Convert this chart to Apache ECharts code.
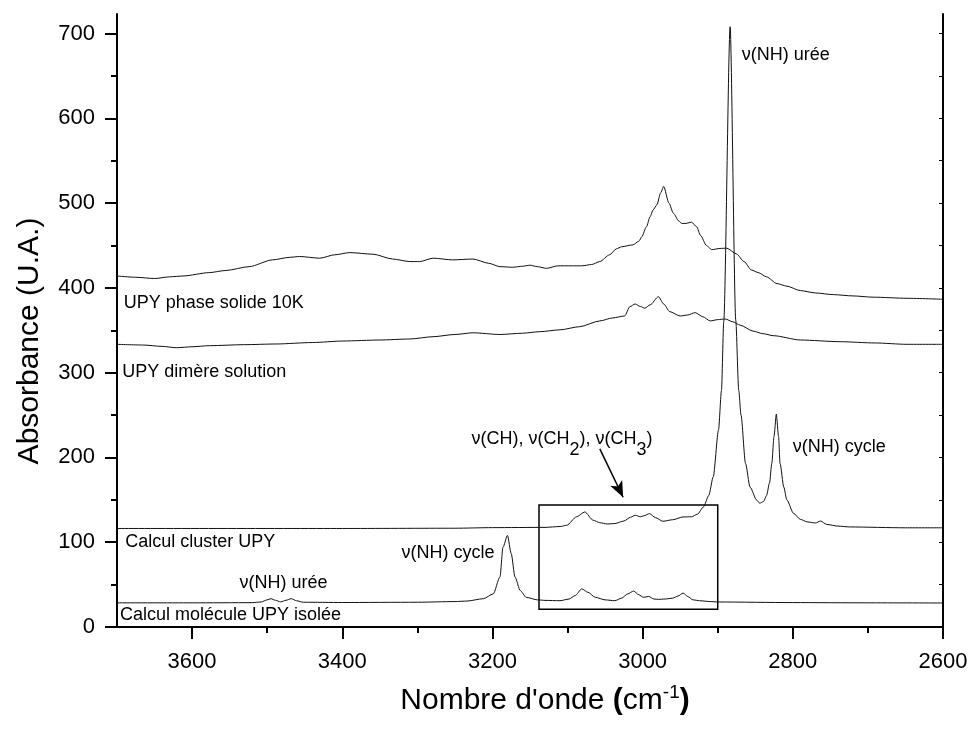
<!DOCTYPE html>
<html>
<head>
<meta charset="utf-8">
<script src="https://cdn.jsdelivr.net/npm/echarts@6/dist/echarts.min.js"></script>
<style>
  html, body { margin: 0; padding: 0; background: #fff; }
  #main { width: 972px; height: 731px; }
</style>
</head>
<body>
<div id="main"></div>
<script>
// UPY phase solide 10K
var solideX = [3700, 3675, 3650, 3630, 3612, 3577, 3555, 3524, 3493, 3470, 3457, 3430, 3410, 3390, 3359, 3333, 3310, 3297, 3279, 3253, 3226, 3205, 3190, 3173, 3160, 3150, 3140, 3128, 3113, 3095, 3081, 3068, 3057, 3044, 3035, 3028, 3013, 3005, 3001, 2995, 2990, 2986, 2981, 2976, 2972, 2965, 2959, 2952, 2948, 2942, 2935, 2928, 2923, 2915, 2908, 2897, 2888, 2875, 2865, 2855, 2846, 2835, 2821, 2808, 2790, 2770, 2746, 2720, 2693, 2648, 2600];
var solideY = [414, 412.5, 411, 413, 414, 418, 420.5, 425, 433, 436, 437, 435, 439, 441.6, 439.7, 434, 431, 431, 435, 433, 434, 429, 425, 424.3, 425.5, 426.7, 425, 423, 426, 426, 426, 427.5, 431, 439, 446, 448.5, 450.7, 455, 460.5, 472, 484, 492, 498, 512, 519.6, 500, 488, 479, 476, 476, 477.5, 472, 462, 450, 445, 446.5, 446.8, 440, 431, 421, 418, 413, 405, 402, 396.8, 394, 392, 390.5, 389, 387.7, 386.5];

// UPY dimère solution
var dimereX = [3700, 3666, 3640, 3621, 3600, 3577, 3530, 3488, 3440, 3399, 3350, 3310, 3279, 3250, 3226, 3190, 3160, 3137, 3110, 3084, 3057, 3040, 3024, 3017, 3010, 3003, 2997, 2990, 2979, 2972, 2964, 2950, 2940, 2930, 2920, 2910, 2900, 2890, 2880, 2870, 2853, 2840, 2826, 2790, 2737, 2690, 2648, 2600];
var dimereY = [333.4, 332.6, 331, 329.4, 330.5, 331.8, 333, 333.8, 335.5, 337.3, 338.5, 339.7, 342.4, 345, 347, 345, 346.5, 348.3, 350.5, 354.2, 361, 364.5, 366.8, 377.8, 381, 378, 376, 380, 389.6, 381, 372, 366.8, 368, 370.8, 366, 361, 362.5, 363.3, 360, 356, 349, 346, 343.6, 338.5, 336.5, 335, 333.4, 333.4];

// Calcul cluster UPY
var clusterX = [3700, 3400, 3250, 3200, 3130, 3110, 3101, 3088, 3077, 3066, 3057, 3047, 3037, 3025, 3016, 3010, 3003, 2997, 2991, 2983, 2973, 2960, 2946, 2935, 2927, 2919, 2912, 2906, 2899, 2895, 2892, 2883.5, 2876, 2872, 2869, 2863, 2857, 2848, 2844, 2839, 2835, 2831, 2828, 2825, 2822, 2819, 2817, 2812, 2808, 2799, 2790, 2781, 2770, 2763, 2755, 2740, 2724, 2650, 2600];
var clusterY = [116.2, 116.2, 116.5, 117.2, 117.5, 118.5, 120, 130, 135.7, 126, 123, 121.5, 122, 125, 129.5, 131.8, 130, 131.5, 133.8, 129, 124.7, 126.5, 129.8, 130, 133, 141.6, 155, 177, 232, 279, 360, 708, 362, 279, 250, 193, 165, 149.5, 146, 148, 155, 170, 193, 225, 251, 225, 193, 165, 150, 134, 127, 124, 122.7, 125, 121, 119, 118, 117, 117];

// Calcul molécule UPY isolée
var isoleeX = [3700, 3600, 3520, 3508, 3500, 3495, 3489, 3482, 3475, 3468, 3461, 3452, 3400, 3300, 3250, 3234, 3212, 3199, 3190, 3186, 3180, 3175, 3170, 3163, 3155, 3140, 3130, 3110, 3098, 3090, 3081, 3073, 3063, 3050, 3037, 3028, 3020, 3012, 3005, 2999, 2992, 2985, 2979, 2970, 2960, 2953, 2946, 2940, 2933, 2924, 2910, 2900, 2800, 2700, 2600];
var isoleeY = [28.5, 28.5, 28.7, 29.5, 32, 33.4, 31.5, 29.6, 31.5, 33.4, 31, 29.2, 28.9, 29.2, 30, 30.6, 33.4, 39, 59, 94, 108, 86.5, 59, 43, 35, 32, 31.4, 31, 33, 37, 45, 41, 35, 32, 31, 34, 39, 42.4, 38, 35, 36, 33, 32.6, 33, 34, 36.5, 40, 36, 32, 31, 30, 29.5, 28.8, 28.5, 28.3];

// axes
var xMajor = [2600, 2800, 3000, 3200, 3400, 3600];
var xMinor = [2700, 2900, 3100, 3300, 3500];
var xTop = [2700, 2800, 2900, 3000, 3100, 3200, 3300, 3400, 3500, 3600];
var yMajor = [0, 100, 200, 300, 400, 500, 600, 700];
var yMinor = [50, 150, 250, 350, 450, 550, 650];
var yRight = [50, 100, 150, 200, 250, 300, 350, 400, 450, 500, 550, 600, 650, 700];

// annotations (data coordinates)
var noteX = [2868, 3691, 3693, 3689, 3321, 3537, 3696, 3228, 2800];
var noteY = [675, 382, 301, 100, 87, 52, 14, 222, 212];
var noteText = [
    '{t|ν(NH) urée}',
    '{t|UPY phase solide 10K}',
    '{t|UPY dimère solution}',
    '{t|Calcul cluster UPY}',
    '{t|ν(NH) cycle}',
    '{t|ν(NH) urée}',
    '{t|Calcul molécule UPY isolée}',
    '{t|ν(CH), ν(CH}{s|2}{t|), ν(CH}{s|3}{t|)}',
    '{t|ν(NH) cycle}'
];
var boxCorners = [[3138, 21], [2900, 144]];
var arrowEnds = [[3057, 210], [3026, 153]];

var FONT = 'Arial, "Liberation Sans", sans-serif';

function pairs(xs, ys) {
    var res = [];
    for (var i = 0; i < xs.length; i++) {
        res.push([xs[i], ys[i]]);
    }
    return res;
}

var notes = [];
for (var i = 0; i < noteX.length; i++) {
    notes.push({ value: [noteX[i], noteY[i]], text: noteText[i] });
}

var lineStyle = { color: '#111', width: 1 };

function curve(name, xs, ys) {
    return {
        name: name,
        type: 'line',
        data: pairs(xs, ys),
        showSymbol: false,
        smooth: 0.25,
        smoothMonotone: 'x',
        lineStyle: lineStyle,
        itemStyle: { color: '#111' },
        silent: true
    };
}

var chart = echarts.init(document.getElementById('main'));

var clusterSeries = curve('Calcul cluster UPY', clusterX, clusterY);
clusterSeries.markArea = {
    silent: true,
    itemStyle: { color: 'rgba(0,0,0,0)', borderColor: '#000', borderWidth: 1.5 },
    data: [[{ coord: boxCorners[0] }, { coord: boxCorners[1] }]]
};
clusterSeries.markLine = {
    silent: true,
    symbol: ['none', 'arrow'],
    symbolSize: [10, 16],
    label: { show: false },
    lineStyle: { color: '#000', width: 1.5, type: 'solid' },
    data: [[{ coord: arrowEnds[0] }, { coord: arrowEnds[1] }]]
};

function plain(v) {
    return String(v);
}

option = {
    animation: false,
    backgroundColor: '#fff',
    grid: { left: 117, right: 29, top: 14, bottom: 104 },
    xAxis: [{
        type: 'value',
        position: 'bottom',
        inverse: true,
        min: 2600,
        max: 3700,
        name: "{n|Nombre d'onde }{b|(}{n|cm}{s|-1}{b|)}",
        nameLocation: 'middle',
        nameGap: 56,
        nameTextStyle: {
            padding: [0, 0, 0, 30],
            rich: {
                n: { fontFamily: FONT, fontSize: 30, color: '#000' },
                b: { fontFamily: FONT, fontSize: 30, color: '#000', fontWeight: 'bold' },
                s: { fontFamily: FONT, fontSize: 19, color: '#000', padding: [0, 0, 16, 0] }
            }
        },
        axisLine: { show: true, lineStyle: { color: '#000', width: 2 } },
        axisTick: { show: true, inside: false, length: 12, customValues: xMajor, lineStyle: { color: '#000', width: 2 } },
        axisLabel: { customValues: xMajor, formatter: plain, margin: 24, fontFamily: FONT, fontSize: 22, color: '#000' },
        splitLine: { show: false }
    }, {
        type: 'value',
        position: 'bottom',
        inverse: true,
        min: 2600,
        max: 3700,
        axisLine: { show: false },
        axisTick: { show: true, inside: false, length: 6, customValues: xMinor, lineStyle: { color: '#000', width: 2 } },
        axisLabel: { show: false },
        splitLine: { show: false }
    }, {
        type: 'value',
        position: 'top',
        inverse: true,
        min: 2600,
        max: 3700,
        axisLine: { show: true, lineStyle: { color: '#000', width: 2 } },
        axisTick: { show: true, inside: true, length: 3, customValues: xTop, lineStyle: { color: '#000', width: 1 } },
        axisLabel: { show: false },
        splitLine: { show: false }
    }],
    yAxis: [{
        type: 'value',
        position: 'left',
        min: 0,
        max: 723,
        name: 'Absorbance (U.A.)',
        nameLocation: 'middle',
        nameGap: 72,
        nameTextStyle: { fontFamily: FONT, fontSize: 30, color: '#000', padding: [0, 41, 0, 0] },
        axisLine: { show: true, lineStyle: { color: '#000', width: 2 } },
        axisTick: { show: true, inside: false, length: 12, customValues: yMajor, lineStyle: { color: '#000', width: 2 } },
        axisLabel: { customValues: yMajor, formatter: plain, margin: 22, fontFamily: FONT, fontSize: 22, color: '#000' },
        splitLine: { show: false }
    }, {
        type: 'value',
        position: 'left',
        min: 0,
        max: 723,
        axisLine: { show: false },
        axisTick: { show: true, inside: false, length: 6, customValues: yMinor, lineStyle: { color: '#000', width: 2 } },
        axisLabel: { show: false },
        splitLine: { show: false }
    }, {
        type: 'value',
        position: 'right',
        min: 0,
        max: 723,
        axisLine: { show: true, lineStyle: { color: '#000', width: 2 } },
        axisTick: { show: true, inside: true, length: 4, customValues: yRight, lineStyle: { color: '#000', width: 1 } },
        axisLabel: { show: false },
        splitLine: { show: false }
    }],
    series: [
        curve('UPY phase solide 10K', solideX, solideY),
        curve('UPY dimère solution', dimereX, dimereY),
        clusterSeries,
        curve('Calcul molécule UPY isolée', isoleeX, isoleeY),
        {
            name: 'notes',
            type: 'scatter',
            symbolSize: 0,
            silent: true,
            data: notes,
            label: {
                show: true,
                position: 'right',
                distance: 0,
                color: '#000',
                opacity: 1,
                formatter: function (p) { return p.data.text; },
                rich: {
                    t: { fontFamily: FONT, fontSize: 18, color: '#000' },
                    s: { fontFamily: FONT, fontSize: 18, color: '#000', padding: [22, 0, 0, 0] }
                }
            }
        }
    ]
};

chart.setOption(option);
window.addEventListener('resize', function () {
    chart.resize();
});
</script>
</body>
</html>
